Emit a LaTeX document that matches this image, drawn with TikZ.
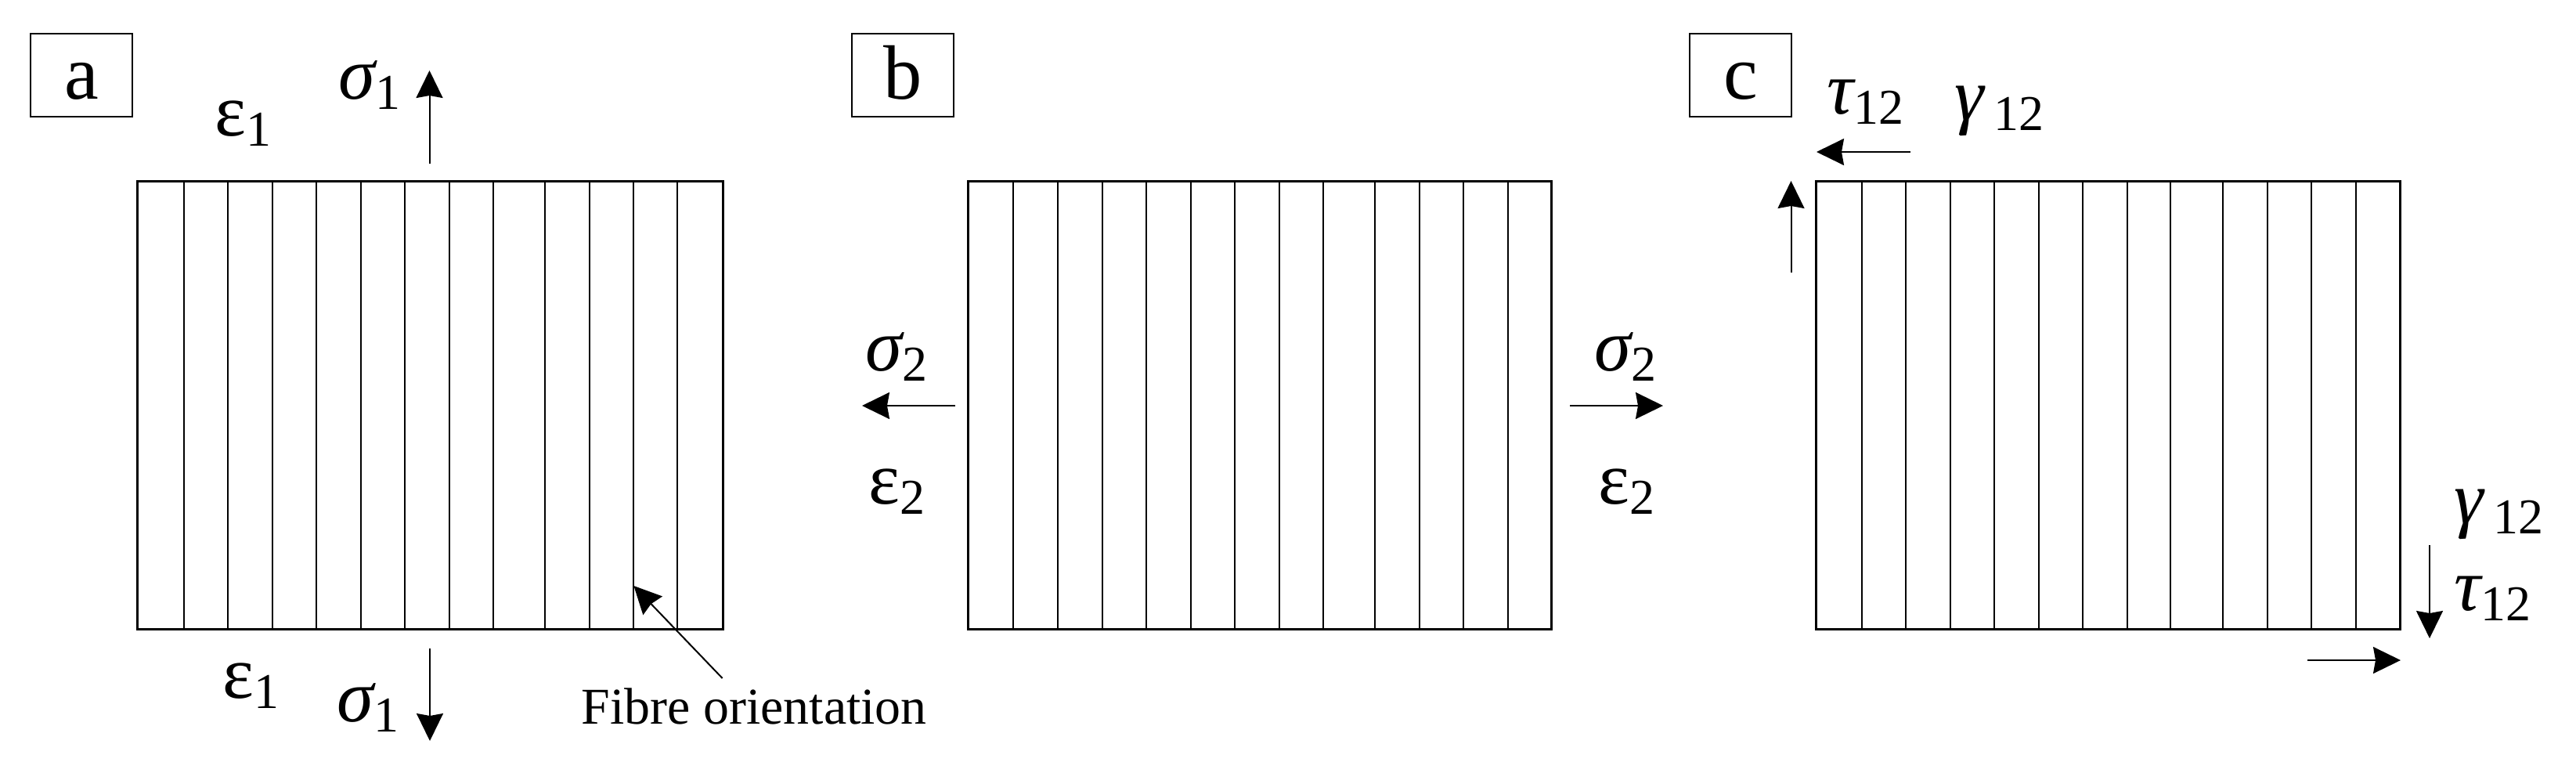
\documentclass[tikz,border=0pt]{standalone}
\usepackage{fontspec}
\setmainfont{Liberation Serif}
\usetikzlibrary{arrows.meta}
\newcommand{\greekup}[2]{{\fontsize{27}{27}\selectfont #1}\raisebox{-0.13cm}{\fontsize{18.2}{18.2}\selectfont #2}}
\newcommand{\greekit}[2]{{\fontsize{27}{27}\selectfont\itshape #1}\raisebox{-0.13cm}{\fontsize{18.2}{18.2}\selectfont #2}}

\begin{document}
\begin{tikzpicture}
[
frame/.style={line width=0.03cm},
fibre/.style={line width=0.018cm},
force/.style={line width=0.02cm, -{Stealth[length=0.35cm, width=0.34cm, inset=0.03cm]}},
panellabel/.style={draw, line width=0.025cm, minimum width=1.3cm, minimum height=1.06cm, inner sep=0, text height=0.61cm, text depth=0, font=\fontsize{28}{28}\selectfont},
symbol/.style={inner sep=0, anchor=base west},
]
\useasboundingbox (0,0) rectangle (32.9,9.86);

\foreach \x in {2.35,2.91,3.48,4.04,4.61,5.17,5.74,6.30,6.96,7.53,8.09,8.65,
                12.94,13.51,14.08,14.64,15.21,15.77,16.34,16.90,17.56,18.13,18.69,19.26,
                23.78,24.34,24.91,25.47,26.04,26.60,27.17,27.72,28.39,28.96,29.52,30.09}
  \draw[fibre] (\x,1.83) -- (\x,7.55);
\draw[frame] (1.755,1.83) rectangle (9.23,7.55);
\draw[frame] (12.36,1.83) rectangle (19.81,7.55);
\draw[frame] (23.19,1.83) rectangle (30.65,7.55);

\node[panellabel] (panela) at (1.04,8.90) {a};
\node[panellabel] (panelb) at (11.53,8.90) {b};
\node[panellabel] (panelc) at (22.23,8.90) {c};

% panel a
\node[symbol] (sigmaatop) at (4.32,8.60) {\greekit{σ}{1}};
\node[symbol] (epsatop) at (2.74,8.13) {\greekup{ε}{1}};
\node[symbol] (epsabot) at (2.84,0.95) {\greekup{ε}{1}};
\node[symbol] (sigmaabot) at (4.30,0.65) {\greekit{σ}{1}};
\node[symbol, font=\fontsize{18.75}{18.75}\selectfont] (fibrelabel) at (7.42,0.62) {Fibre orientation};
\coordinate (atopfrom) at (5.485,7.77);
\coordinate (atopto) at (5.485,8.96);
\coordinate (abotfrom) at (5.49,1.58);
\coordinate (abotto) at (5.49,0.40);
\coordinate (fibrefrom) at (9.226,1.20);
\coordinate (fibreto) at (8.094,2.38);
\draw[force] (atopfrom) -- (atopto);
\draw[force] (abotfrom) -- (abotto);
\draw[force] (fibrefrom) -- (fibreto);

% panel b
\node[symbol] (sigmableft) at (11.05,5.13) {\greekit{σ}{2}};
\node[symbol] (epsbleft) at (11.09,3.43) {\greekup{ε}{2}};
\node[symbol] (sigmabright) at (20.36,5.13) {\greekit{σ}{2}};
\node[symbol] (epsbright) at (20.41,3.43) {\greekup{ε}{2}};
\coordinate (bleftfrom) at (12.20,4.68);
\coordinate (bleftto) at (11.01,4.68);
\coordinate (brightfrom) at (20.05,4.68);
\coordinate (brightto) at (21.24,4.68);
\draw[force] (bleftfrom) -- (bleftto);
\draw[force] (brightfrom) -- (brightto);

% panel c
\node[symbol] (tauctop) at (23.33,8.41) {\greekit{τ}{12}};
\node[symbol] (gammactop) at (24.96,8.33) {\greekit{γ}{\hspace{0.12cm}12}};
\node[symbol] (gammacbot) at (31.34,3.18) {\greekit{γ}{\hspace{0.12cm}12}};
\node[symbol] (taucbot) at (31.34,2.07) {\greekit{τ}{12}};
\coordinate (ctopfrom) at (24.40,7.92);
\coordinate (ctopto) at (23.20,7.92);
\coordinate (cleftfrom) at (22.875,6.38);
\coordinate (cleftto) at (22.875,7.55);
\coordinate (crightfrom) at (31.03,2.90);
\coordinate (crightto) at (31.03,1.71);
\coordinate (cbotfrom) at (29.47,1.43);
\coordinate (cbotto) at (30.66,1.43);
\draw[force] (ctopfrom) -- (ctopto);
\draw[force] (cleftfrom) -- (cleftto);
\draw[force] (crightfrom) -- (crightto);
\draw[force] (cbotfrom) -- (cbotto);
\end{tikzpicture}
\end{document}
